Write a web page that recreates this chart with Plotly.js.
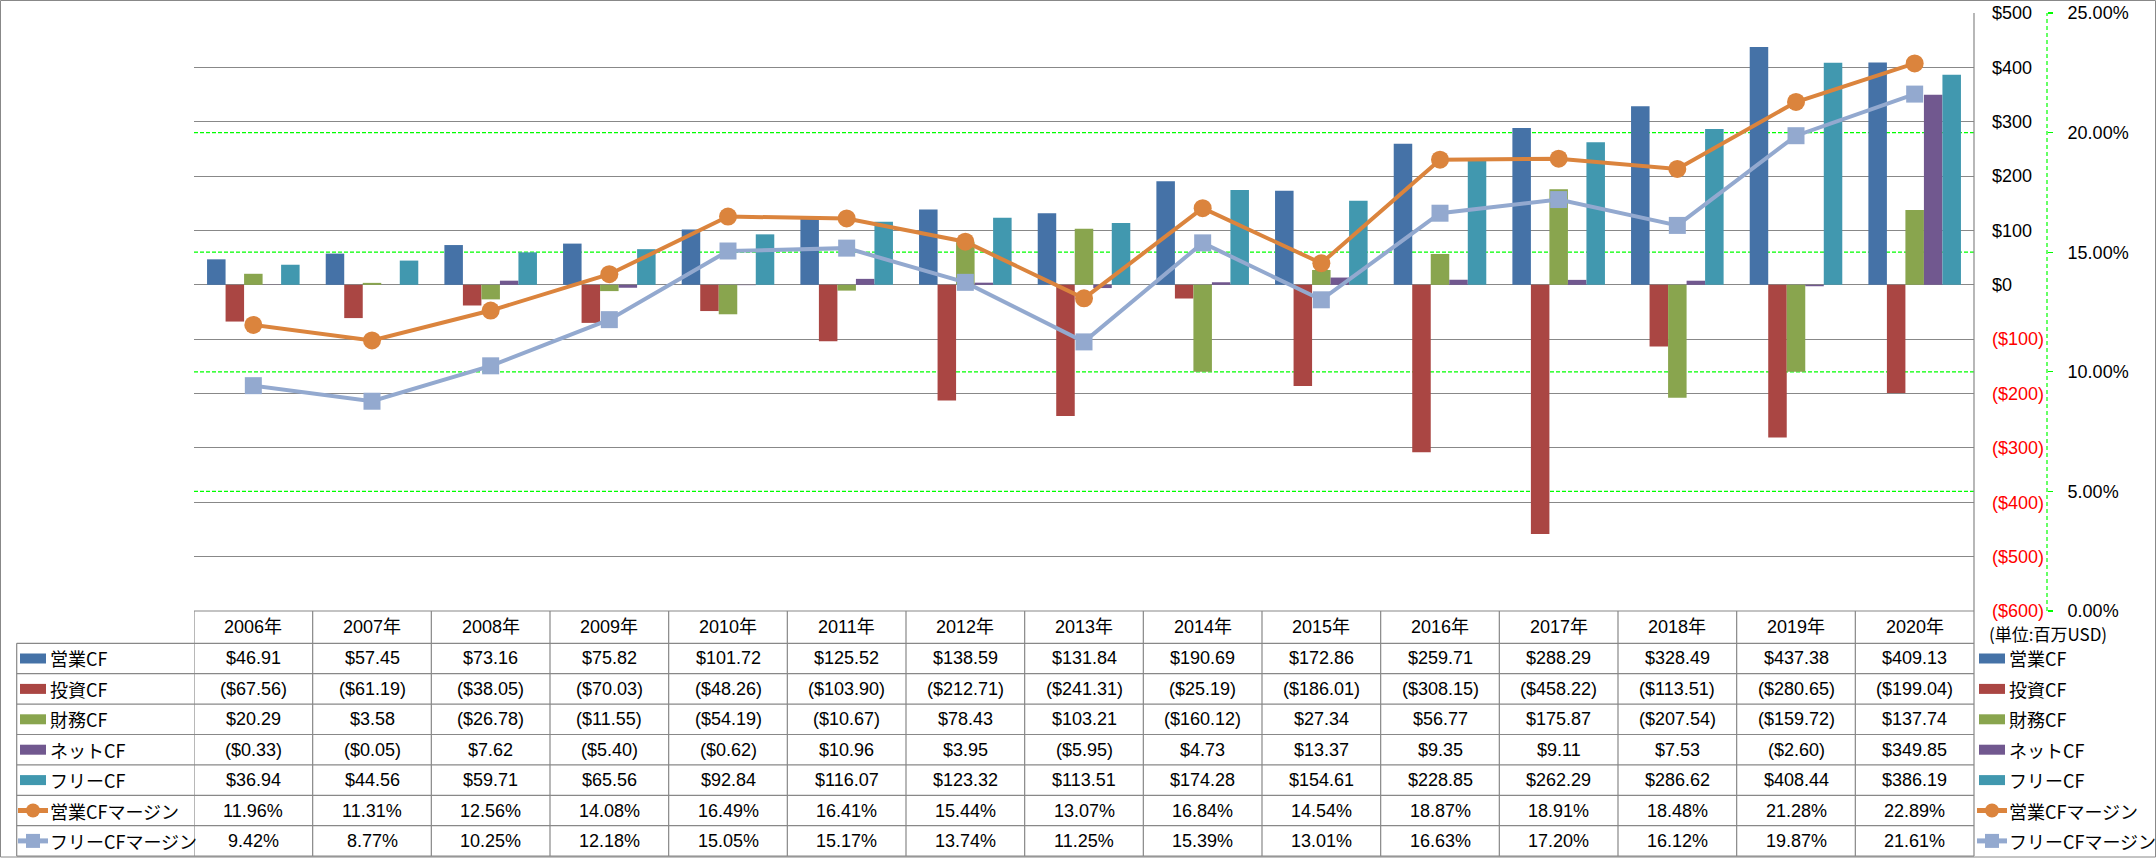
<!DOCTYPE html>
<html>
<head>
<meta charset="utf-8">
<script src="https://cdn.plot.ly/plotly-3.0.1.min.js"></script>
<style>
html,body{margin:0;padding:0;background:#ffffff;}
#chart{width:2156px;height:858px;}
</style>
</head>
<body>
<div id="chart"></div>
<script>
// ---------------- data ----------------
const years = ['2006年','2007年','2008年','2009年','2010年','2011年','2012年','2013年','2014年','2015年','2016年','2017年','2018年','2019年','2020年'];
const opCF   = [46.91, 57.45, 73.16, 75.82, 101.72, 125.52, 138.59, 131.84, 190.69, 172.86, 259.71, 288.29, 328.49, 437.38, 409.13];
const invCF  = [-67.56, -61.19, -38.05, -70.03, -48.26, -103.90, -212.71, -241.31, -25.19, -186.01, -308.15, -458.22, -113.51, -280.65, -199.04];
const finCF  = [20.29, 3.58, -26.78, -11.55, -54.19, -10.67, 78.43, 103.21, -160.12, 27.34, 56.77, 175.87, -207.54, -159.72, 137.74];
const netCF  = [-0.33, -0.05, 7.62, -5.40, -0.62, 10.96, 3.95, -5.95, 4.73, 13.37, 9.35, 9.11, 7.53, -2.60, 349.85];
const freeCF = [36.94, 44.56, 59.71, 65.56, 92.84, 116.07, 123.32, 113.51, 174.28, 154.61, 228.85, 262.29, 286.62, 408.44, 386.19];
const opMargin   = [11.96, 11.31, 12.56, 14.08, 16.49, 16.41, 15.44, 13.07, 16.84, 14.54, 18.87, 18.91, 18.48, 21.28, 22.89];
const freeMargin = [9.42, 8.77, 10.25, 12.18, 15.05, 15.17, 13.74, 11.25, 15.39, 13.01, 16.63, 17.20, 16.12, 19.87, 21.61];

const seriesNames = ['営業CF','投資CF','財務CF','ネットCF','フリーCF','営業CFマージン','フリーCFマージン'];
const seriesColors = ['#4572A7','#AA4643','#89A54E','#71588F','#4198AF','#DB843D','#93A9CF'];
const yTickVals  = [-600,-500,-400,-300,-200,-100,0,100,200,300,400,500];
const y2TickVals = [0,5,10,15,20,25];
const unitLabel = '(単位:百万USD)';

// ---------------- geometry helpers ----------------
const W = 2156, H = 858, T = 13, B = 611, PH = B - T;
const PL = 194, PR = 1974;
const X = px => px / W;
const Y = py => (B - py) / PH;
const HEAD_BOTTOM = 643.3, ROW_H = 30.4;
const rowCenter = k => HEAD_BOTTOM + k * ROW_H + ROW_H / 2;

const money = v => v < 0 ? '($' + Math.abs(v).toFixed(2) + ')' : '$' + v.toFixed(2);
const pct = v => v.toFixed(2) + '%';
const moneyTick = v => v < 0 ? '<span style="color:#FF0000">($' + (-v) + ')</span>' : '$' + v;

const GRID = '#888888';
const NUMFONT = 'Liberation Sans, Arial, Noto Sans CJK JP, sans-serif';
const JPFONT = 'Noto Sans CJK JP, sans-serif';

// ---------------- traces ----------------
const barSeries = [opCF, invCF, finCF, netCF, freeCF];
const traces = barSeries.map((vals, i) => ({
  type: 'bar', x: years, y: vals, name: seriesNames[i],
  marker: {color: seriesColors[i], line: {width: 0}},
  xaxis: 'x', yaxis: 'y', hoverinfo: 'x+y+name'
}));
traces.push({
  type: 'scatter', mode: 'lines+markers', x: years, y: opMargin, name: seriesNames[5],
  xaxis: 'x', yaxis: 'y2',
  line: {color: seriesColors[5], width: 4},
  marker: {symbol: 'circle', size: 18, color: seriesColors[5]}
});
traces.push({
  type: 'scatter', mode: 'lines+markers', x: years, y: freeMargin, name: seriesNames[6],
  xaxis: 'x', yaxis: 'y2',
  line: {color: seriesColors[6], width: 4},
  marker: {symbol: 'square', size: 17, color: seriesColors[6]}
});

// ---------------- shapes ----------------
const shapes = [];
// outer border
shapes.push({type:'rect', xref:'paper', yref:'paper', x0:X(0.5), x1:X(W-0.5), y0:Y(0.5), y1:Y(H-1), line:{color:GRID, width:1}, layer:'above'});
// secondary dashed gridlines
[5,10,15,20].forEach(v => shapes.push({type:'line', xref:'x domain', yref:'y2', x0:0, x1:1, y0:v, y1:v,
  line:{color:'#00FF00', width:1.2, dash:'4px,2px'}, layer:'below'}));
// secondary axis dashed line
shapes.push({type:'line', xref:'paper', yref:'y2', x0:X(2047), x1:X(2047), y0:0, y1:25,
  line:{color:'#00FF00', width:1.2, dash:'4px,3px'}, layer:'above'});
// right border of plot (extends down through the table)
shapes.push({type:'line', xref:'x domain', yref:'paper', x0:1, x1:1, y0:Y(856), y1:1, line:{color:GRID, width:1.2}, layer:'above'});
// table: top of header
shapes.push({type:'line', xref:'x domain', yref:'paper', x0:0, x1:1, y0:Y(B), y1:Y(B), line:{color:GRID, width:1.2}});
// table: row lines
for (let k = 0; k <= 7; k++) {
  const py = HEAD_BOTTOM + k * ROW_H;
  shapes.push({type:'line', xref:'paper', yref:'paper', x0:X(16.7), x1:X(PR), y0:Y(py), y1:Y(py), line:{color:GRID, width:1.2}});
}
// table: column lines
for (let i = 0; i < years.length; i++) {
  shapes.push({type:'line', xref:'x', yref:'paper', x0:i-0.5, x1:i-0.5, y0:Y(B), y1:Y(HEAD_BOTTOM + 7*ROW_H), line:{color:GRID, width:1.2}});
}
shapes.push({type:'line', xref:'paper', yref:'paper', x0:X(16.7), x1:X(16.7), y0:Y(HEAD_BOTTOM), y1:Y(HEAD_BOTTOM + 7*ROW_H), line:{color:GRID, width:1.2}});

// legend keys (table left column and right legend)
function addKeys(x0) {
  for (let k = 0; k < 7; k++) {
    const c = rowCenter(k);
    if (k < 5) {
      shapes.push({type:'rect', xref:'paper', yref:'paper', x0:X(x0+2), x1:X(x0+28), y0:Y(c+5), y1:Y(c-5), fillcolor:seriesColors[k], line:{width:0}});
    } else {
      shapes.push({type:'line', xref:'paper', yref:'paper', x0:X(x0), x1:X(x0+30), y0:Y(c), y1:Y(c), line:{color:seriesColors[k], width:5}});
      const cx = x0 + 15, r = 7;
      shapes.push({type: k === 5 ? 'circle' : 'rect', xref:'paper', yref:'paper', x0:X(cx-r), x1:X(cx+r), y0:Y(c+r), y1:Y(c-r), fillcolor:seriesColors[k], line:{width:0}});
    }
  }
}
addKeys(18);
addKeys(1977);

// ---------------- annotations ----------------
const annotations = [];
const tableRows = [opCF.map(money), invCF.map(money), finCF.map(money), netCF.map(money), freeCF.map(money), opMargin.map(pct), freeMargin.map(pct)];
years.forEach((yr, i) => {
  annotations.push({xref:'x', yref:'paper', x:yr, y:Y((B + HEAD_BOTTOM)/2), text:yr, showarrow:false,
    xanchor:'center', yanchor:'middle', font:{family:NUMFONT, size:18, color:'#000'}});
  tableRows.forEach((row, k) => {
    annotations.push({xref:'x', yref:'paper', x:yr, y:Y(rowCenter(k)), text:row[i], showarrow:false,
      xanchor:'center', yanchor:'middle', font:{family:NUMFONT, size:18, color:'#000'}});
  });
});
seriesNames.forEach((nm, k) => {
  annotations.push({xref:'paper', yref:'paper', x:X(48), y:Y(rowCenter(k)), text:nm, showarrow:false,
    xanchor:'left', yanchor:'middle', font:{family:JPFONT, size:18, color:'#000'}});
  annotations.push({xref:'paper', yref:'paper', x:X(2007), y:Y(rowCenter(k)), text:nm, showarrow:false,
    xanchor:'left', yanchor:'middle', font:{family:JPFONT, size:18, color:'#000'}});
});
annotations.push({xref:'paper', yref:'paper', x:X(1987), y:Y(633), text:unitLabel, showarrow:false,
  xanchor:'left', yanchor:'middle', font:{family:JPFONT, size:17, color:'#000'}});

// ---------------- layout ----------------
const layout = {
  width: W, height: H,
  margin: {l:0, r:0, t:T, b:H-B, pad:0},
  paper_bgcolor:'#ffffff', plot_bgcolor:'rgba(0,0,0,0)',
  showlegend: false,
  barmode: 'group', bargap: 0.22, bargroupgap: 0,
  xaxis: {domain:[X(PL), X(PR)], type:'category', range:[-0.5, 14.5], showgrid:false, zeroline:false,
    showline:false, showticklabels:false, ticks:'', fixedrange:true},
  yaxis: {range:[-600, 500], side:'right', anchor:'x', tickvals:yTickVals, ticktext:yTickVals.map(moneyTick),
    showgrid:true, gridcolor:GRID, gridwidth:1, zeroline:false, showline:false, ticks:'',
    ticklabelstandoff:17, tickfont:{family:NUMFONT, size:18, color:'#000'}, fixedrange:true},
  yaxis2: {range:[0, 25], overlaying:'y', side:'right', anchor:'free', position:X(2047),
    tickvals:y2TickVals, ticktext:y2TickVals.map(v => v.toFixed(2) + '%'),
    showgrid:false, zeroline:false, showline:false, ticks:'outside', ticklen:5, tickwidth:1.2, tickcolor:'#00FF00',
    ticklabelstandoff:11, tickfont:{family:NUMFONT, size:18, color:'#000'}, fixedrange:true},
  shapes: shapes,
  annotations: annotations
};

Plotly.newPlot('chart', traces, layout, {displayModeBar:false, staticPlot:true});
</script>
</body>
</html>
